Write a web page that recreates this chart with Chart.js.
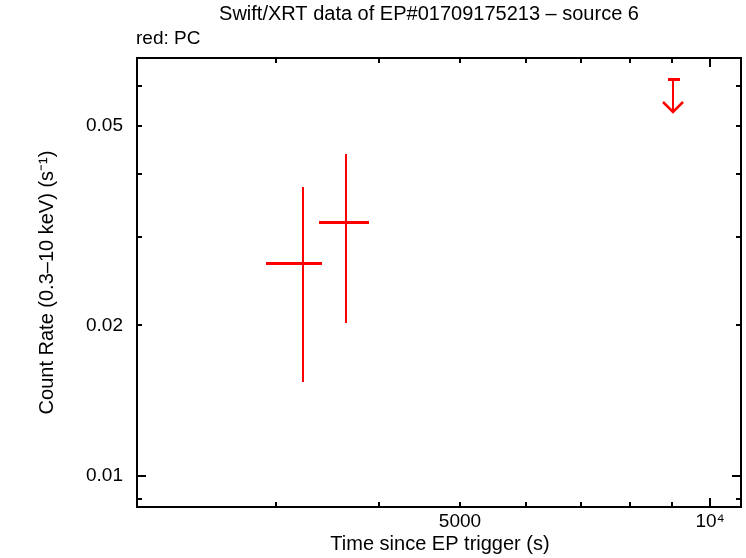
<!DOCTYPE html>
<html><head><meta charset="utf-8">
<script src="https://cdn.jsdelivr.net/npm/chart.js@4.4.1/dist/chart.umd.min.js"></script>
<style>html,body{margin:0;padding:0;background:#fff}#c{display:block}</style>
</head><body>
<canvas id="c" width="746" height="558"></canvas>
<script>
// ---- data ----
const timeMid = [3236, 3646];
const timeLo  = [2920, 3382];
const timeHi  = [3411, 3886];
const rateMid = [0.02663, 0.03215];
const rateLo  = [0.01540, 0.02021];
const rateHi  = [0.03776, 0.04396];
const ulTime   = [9026];
const ulTimeLo = [8903];
const ulTimeHi = [9188];
const ulRate   = [0.0620];
const xTickValues = [5000, 10000];
const xTickLabels = ['5000', '10\u2074'];
const yTickValues = [0.01, 0.02, 0.05];
const yTickLabels = ['0.01', '0.02', '0.05'];
const xMinorTicks = [3000, 4000, 5000, 6000, 7000, 8000, 9000];
const xMajorTicks = [10000];
const yMinorTicks = [0.009, 0.02, 0.03, 0.04, 0.05, 0.06];
const yMajorTicks = [0.01];
const xRange = [2043, 10893];
const yRange = [0.00868, 0.0683];
const titleText = 'Swift/XRT data of EP#01709175213 \u2013 source 6';
const subText = 'red: PC';
const xTitle = 'Time since EP trigger (s)';
const yTitle = 'Count Rate (0.3\u201310 keV) (s\u207B\u00B9)';

const FONT = '"Liberation Sans", Arial, Helvetica, sans-serif';
const RED = '#ff0000';

const points = timeMid.map((t, i) => ({x: t, y: rateMid[i]}));
const ulPoints = ulTime.map((t, i) => ({x: t, y: ulRate[i]}));

const drawPlugin = {
  id: 'gnuplotLook',
  afterDatasetsDraw(chart) {
    const ctx = chart.ctx, xs = chart.scales.x, ys = chart.scales.y;
    const X = v => Math.round(xs.getPixelForValue(v));
    const Y = v => Math.round(ys.getPixelForValue(v));
    ctx.save();
    ctx.strokeStyle = RED;
    ctx.lineCap = 'butt';
    for (let i = 0; i < timeMid.length; i++) {
      const px = X(timeMid[i]);
      const py = Y(rateMid[i]);
      ctx.lineWidth = 2;
      ctx.beginPath();
      ctx.moveTo(px, Y(rateHi[i]));
      ctx.lineTo(px, Y(rateLo[i]));
      ctx.stroke();
      ctx.lineWidth = 3;
      ctx.beginPath();
      ctx.moveTo(X(timeLo[i]), py + 0.5);
      ctx.lineTo(X(timeHi[i]), py + 0.5);
      ctx.stroke();
    }
    for (let i = 0; i < ulTime.length; i++) {
      const px = X(ulTime[i]);
      const py = Y(ulRate[i]);
      ctx.lineWidth = 3;
      ctx.beginPath();
      ctx.moveTo(X(ulTimeLo[i]), py + 0.5);
      ctx.lineTo(X(ulTimeHi[i]), py + 0.5);
      ctx.stroke();
      const tip = py + 34;
      ctx.lineWidth = 2;
      ctx.beginPath();
      ctx.moveTo(px, py);
      ctx.lineTo(px, tip);
      ctx.stroke();
      ctx.lineWidth = 2.5;
      ctx.lineJoin = 'miter';
      ctx.beginPath();
      ctx.moveTo(px - 10, tip - 11);
      ctx.lineTo(px, tip - 1);
      ctx.lineTo(px + 10, tip - 11);
      ctx.stroke();
    }
    ctx.restore();
  },
  afterDraw(chart) {
    const ctx = chart.ctx, xs = chart.scales.x, ys = chart.scales.y;
    const a = chart.chartArea;
    ctx.save();
    ctx.strokeStyle = '#000';
    ctx.lineWidth = 2;
    const tick = (vals, len, axis) => {
      vals.forEach(v => {
        ctx.beginPath();
        if (axis === 'x') {
          const p = Math.round(xs.getPixelForValue(v));
          ctx.moveTo(p, a.bottom); ctx.lineTo(p, a.bottom - len);
          ctx.moveTo(p, a.top); ctx.lineTo(p, a.top + len);
        } else {
          const p = Math.round(ys.getPixelForValue(v));
          ctx.moveTo(a.left, p); ctx.lineTo(a.left + len, p);
          ctx.moveTo(a.right, p); ctx.lineTo(a.right - len, p);
        }
        ctx.stroke();
      });
    };
    tick(xMinorTicks, 5, 'x');
    tick(xMajorTicks, 9, 'x');
    tick(yMinorTicks, 5, 'y');
    tick(yMajorTicks, 9, 'y');
    ctx.strokeRect(a.left, a.top, a.right - a.left, a.bottom - a.top);
    ctx.fillStyle = '#000';
    ctx.font = '20px ' + FONT;
    ctx.textBaseline = 'alphabetic';
    ctx.textAlign = 'center';
    ctx.fillText(titleText, 429, 20);
    ctx.font = '19px ' + FONT;
    ctx.textAlign = 'left';
    ctx.fillText(subText, 136, 44);
    ctx.font = '20px ' + FONT;
    ctx.textAlign = 'center';
    ctx.fillText(xTitle, 440, 550);
    ctx.save();
    ctx.translate(53, (a.top + a.bottom) / 2);
    ctx.rotate(-Math.PI / 2);
    ctx.fillText(yTitle, 0, 0);
    ctx.restore();
    ctx.restore();
  }
};

new Chart(document.getElementById('c'), {
  type: 'scatter',
  data: {
    datasets: [
      {label: 'PC', data: points, pointRadius: 0, borderColor: RED, backgroundColor: RED, showLine: false},
      {label: 'PC upper limit', data: ulPoints, pointRadius: 0, borderColor: RED, backgroundColor: RED, showLine: false}
    ]
  },
  options: {
    responsive: false,
    animation: false,
    devicePixelRatio: 1,
    layout: {padding: {top: 58, right: 5, left: 0, bottom: 0}},
    plugins: {legend: {display: false}, title: {display: false}, tooltip: {enabled: false}},
    scales: {
      x: {
        type: 'logarithmic', position: 'bottom',
        min: xRange[0], max: xRange[1],
        grid: {display: false, drawTicks: false}, border: {display: false},
        afterBuildTicks: s => { s.ticks = xTickValues.map(v => ({value: v})); },
        afterFit: s => { s.height = 51; },
        ticks: {
          autoSkip: false, maxRotation: 0, color: '#000', padding: 5,
          font: {family: FONT, size: 19, lineHeight: 1},
          callback: (v) => { const i = xTickValues.indexOf(v); return i >= 0 ? xTickLabels[i] : ''; }
        }
      },
      y: {
        type: 'logarithmic', position: 'left',
        min: yRange[0], max: yRange[1],
        grid: {display: false, drawTicks: false}, border: {display: false},
        afterBuildTicks: s => { s.ticks = yTickValues.map(v => ({value: v})); },
        afterFit: s => { s.width = 137; },
        ticks: {
          autoSkip: false, color: '#000', padding: 14,
          font: {family: FONT, size: 19, lineHeight: 1},
          callback: (v) => { const i = yTickValues.indexOf(v); return i >= 0 ? yTickLabels[i] : ''; }
        }
      }
    }
  },
  plugins: [drawPlugin]
});
</script>
</body></html>
